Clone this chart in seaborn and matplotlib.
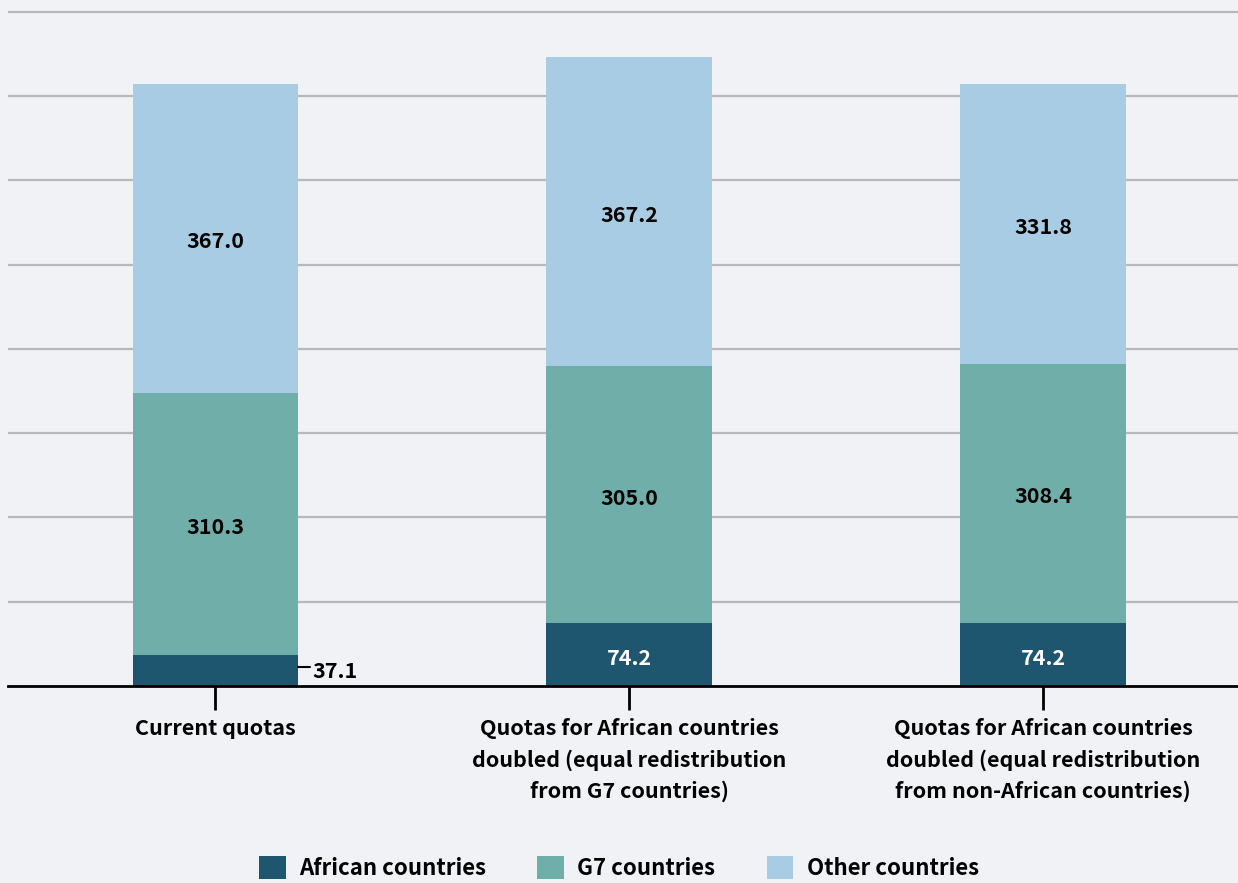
import numpy as np
import pandas as pd
import matplotlib.pyplot as plt
import seaborn as sns

categories = ["Current quotas",
              "Quotas for African countries\ndoubled (equal redistribution\nfrom G7 countries)",
              "Quotas for African countries\ndoubled (equal redistribution\nfrom non-African countries)"]
african = [37.1, 74.2, 74.2]
g7 = [310.3, 305.0, 308.4]
other = [367.0, 367.2, 331.8]
series_names = ["African countries", "G7 countries", "Other countries"]

colors = {
    "African countries": "#1e5670",
    "G7 countries": "#70afa9",
    "Other countries": "#a8cce3",
}
bg = "#f1f2f6"

sns.set_style("white")
plt.rcParams["font.family"] = ["Noto Sans CJK SC", "DejaVu Sans"]
plt.rcParams["text.color"] = "black"
plt.rcParams["xtick.color"] = "black"
plt.rcParams["xtick.bottom"] = True

fig = plt.figure(figsize=(12.38, 8.83), dpi=100, facecolor=bg)
ax = fig.add_axes([8 / 1238, 1 - 686 / 883, 1 - 8 / 1238, 686 / 883])
ax.set_facecolor(bg)

df = pd.DataFrame({"cat": categories, "African countries": african,
                   "G7 countries": g7, "Other countries": other})

bottom = np.zeros(len(categories))
for name in series_names:
    sns.barplot(data=df, x="cat", y=name, bottom=bottom, color=colors[name],
                width=0.4, saturation=1, linewidth=0, ax=ax, label=name, zorder=3)
    vals = df[name].to_numpy()
    for i, (v, b) in enumerate(zip(vals, bottom)):
        if name == "African countries" and v < 50:
            # small segment: label outside with a short leader line
            ax.plot([i + 0.2, i + 0.228], [b + v / 2 + 4, b + v / 2 + 4],
                    color="black", lw=1.5, zorder=4)
            ax.text(i + 0.235, b + v / 2 - 1, f"{v:.1f}", ha="left", va="center",
                    fontsize=15.5, fontweight="semibold", color="black")
        else:
            tc = "white" if name == "African countries" else "black"
            ax.text(i, b + v / 2 - 4, f"{v:.1f}", ha="center", va="center",
                    fontsize=15.5, fontweight="semibold", color=tc, zorder=5)
    bottom = bottom + vals

ax.set_xlim(-0.501, 2.471)
ax.set_ylim(0, 814)
ax.set_yticks(np.arange(100, 801, 100))
ax.yaxis.grid(True, color="#b9b9bb", lw=1.6, zorder=0)
ax.xaxis.grid(False)
ax.tick_params(axis="y", length=0, labelleft=False)
ax.tick_params(axis="x", bottom=True, length=17, width=2, color="black",
               pad=6, labelsize=15.5, labelcolor="black")
for lbl in ax.get_xticklabels():
    lbl.set_fontweight("semibold")
    lbl.set_linespacing(1.57)
ax.set_xlabel("")
ax.set_ylabel("")
for s in ["left", "right", "top"]:
    ax.spines[s].set_visible(False)
ax.spines["bottom"].set_color("black")
ax.spines["bottom"].set_linewidth(2)
ax.spines["bottom"].set_zorder(6)

handles, labels = ax.get_legend_handles_labels()
if ax.get_legend():
    ax.get_legend().remove()
fig.legend(handles, labels, loc="center", bbox_to_anchor=(0.5, 0.017),
           ncol=3, frameon=False, handlelength=1.2, handleheight=1.2,
           columnspacing=2.3, handletextpad=0.6,
           prop={"size": 16, "weight": "semibold"})

fig.savefig("out.png", dpi=100, facecolor=bg)
